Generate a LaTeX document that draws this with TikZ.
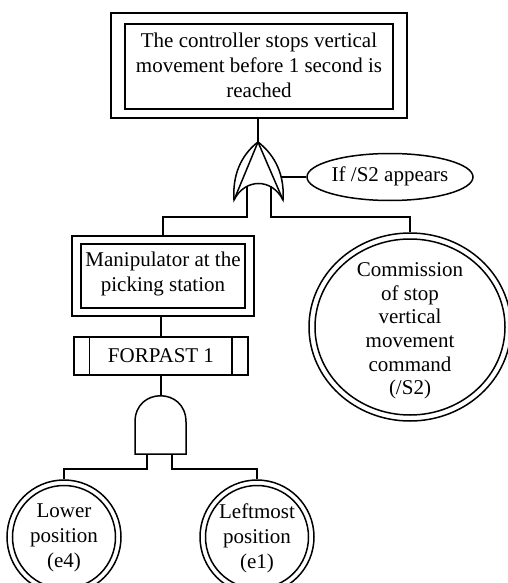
\documentclass[tikz,border=0pt]{standalone}
\usepackage{fontspec}
\setmainfont{Liberation Serif}
\usetikzlibrary{shapes.geometric}
\begin{document}
\begin{tikzpicture}[x=1pt,y=-1pt, line width=1.5pt,
  lbl/.style={align=center,font=\fontsize{21}{25}\selectfont, inner sep=0pt},
  boxo/.style={draw, rectangle, inner sep=0pt, fill=none},
  circo/.style={draw, circle, inner sep=0pt},
  ello/.style={draw, ellipse, inner sep=0pt}]
\useasboundingbox (0,0) rectangle (507,583);

% top event
\node[boxo, minimum width=296pt, minimum height=105pt] (topo) at (259,65.5) {};
\node[boxo, minimum width=268pt, minimum height=85pt] (topi) at (259,66.5) {};
\node[lbl] (toptxt) at (259,65) {The controller stops vertical\\movement before 1 second is\\reached};

% gate (OR with condition)
\coordinate (gA) at (258,142);
\coordinate (gL) at (234,200);
\coordinate (gR) at (283,200);
\coordinate (gIn1) at (247,186);
\coordinate (gIn2) at (271,186);
\coordinate (gSide) at (281,177);
\draw (gL) .. controls (232,170) and (245,152) .. (gA)
      .. controls (271,152) and (285,170) .. (gR)
      .. controls (272,178) and (245,178) .. cycle;
\draw (gL) -- (gA) -- (gR);

% condition
\node[ello, minimum width=166pt, minimum height=47pt] (cond) at (390,177) {};
\node[lbl] (condtxt) at (390,176) {If /S2 appears};

% manipulator
\node[boxo, minimum width=182pt, minimum height=80pt] (mano) at (163,276) {};
\node[boxo, minimum width=164pt, minimum height=64pt] (mani) at (163,276) {};
\node[lbl] (mantxt) at (163,274) {Manipulator at the\\picking station};

% FORPAST
\node[boxo, minimum width=174pt, minimum height=38pt] (fp) at (161,356) {};
\draw ([xshift=16pt]fp.north west) -- ([xshift=16pt]fp.south west);
\draw ([xshift=-17pt]fp.north east) -- ([xshift=-17pt]fp.south east);
\node[lbl] (fptxt) at (161,356) {FORPAST 1};

% AND gate
\coordinate (aTop) at (161,396);
\coordinate (aIn1) at (147,454);
\coordinate (aIn2) at (172,454);
\draw (135,454) -- (135,422) .. controls (135,387) and (186,387) .. (186,422) -- (186,454) -- cycle;

% commission basic event
\node[ello, minimum width=202pt, minimum height=188pt] (como) at (410,327) {};
\node[ello, minimum width=190pt, minimum height=176pt] (comi) at (410,327) {};
\node[lbl, font=\fontsize{21}{23.6}\selectfont] (comtxt) at (410,331) {Commission\\of stop\\vertical\\movement\\command\\(/S2)};

% basic events
\node[circo, minimum size=114pt] (lowo) at (64,537) {};
\node[circo, minimum size=103pt] (lowi) at (64,537) {};
\node[lbl] (lowtxt) at (64,538) {Lower\\position\\(e4)};
\node[circo, minimum size=114pt] (lefo) at (257,537) {};
\node[circo, minimum size=103pt] (lefi) at (257,537) {};
\node[lbl] (leftxt) at (257,538) {Leftmost\\position\\(e1)};

% connectors
\draw (topo.south -| gA) -- (gA);
\draw (gSide) -- (cond.west);
\draw (gIn1) -- ++(0,31) -| (mano.north);
\draw (gIn2) -- ++(0,31) -| (como.north);
\draw (mano.south -| fp.north) -- (fp.north);
\draw (fp.south) -- (aTop);
\draw (aIn1) -- ++(0,15) -| (lowo.north);
\draw (aIn2) -- ++(0,15) -| (lefo.north);
\end{tikzpicture}
\end{document}
